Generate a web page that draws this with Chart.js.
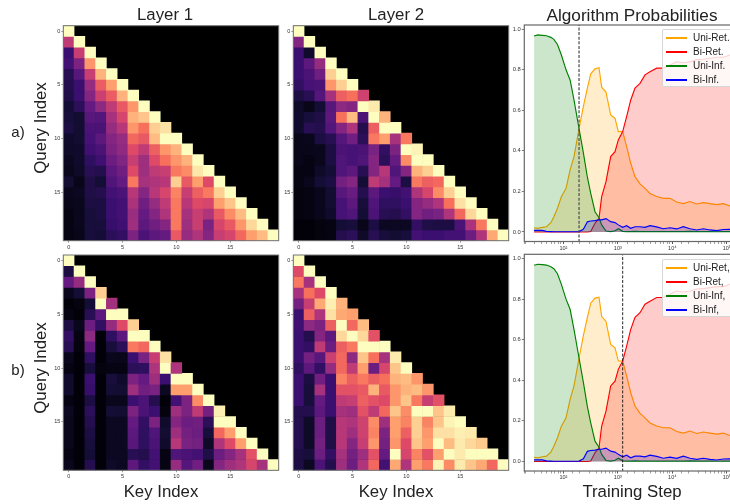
<!DOCTYPE html>
<html>
<head>
<meta charset="utf-8">
<script src="https://cdn.jsdelivr.net/npm/chart.js@4"></script>
<style>
  html, body { margin: 0; padding: 0; background: #fff; }
  body { position: relative; width: 730px; height: 504px; overflow: hidden; font-family: "Liberation Sans", sans-serif; color: #222; }
  canvas { position: absolute; filter: blur(0.3px); }
  .lbl { position: absolute; font-size: 16.8px; white-space: nowrap; transform: translate(-50%, -50%); }
  .lbl.rot { transform: translate(-50%, -50%) rotate(-90deg); }
  .legend { position: absolute; left: 662px; width: 100px; height: 58px; box-sizing: border-box; background: rgba(255,255,255,0.82); border: 1px solid rgba(204,204,204,0.8); border-radius: 2px; }
  .legend i { position: absolute; left: 3px; width: 21px; height: 1.5px; }
  .legend span { position: absolute; left: 30px; font-size: 10px; line-height: 12px; color: #222; }
</style>
</head>
<body>
<canvas id="heatA1"></canvas>
<canvas id="heatA2"></canvas>
<canvas id="probA"></canvas>
<canvas id="heatB1"></canvas>
<canvas id="heatB2"></canvas>
<canvas id="probB"></canvas>
<script>
// attention matrices, one row per query index, 0-100 on the colour scale
const layer1A = [
  [100],
  [52,100],
  [20,54,100],
  [22,36,78,100],
  [15,27,54,84,100],
  [14,20,42,65,80,100],
  [13,20,38,55,65,84,100],
  [10,16,30,40,52,64,78,100],
  [11,9,27,26,46,58,84,88,100],
  [12,9,24,24,42,50,78,70,90,94],
  [8,9,23,28,38,42,68,64,86,100,100],
  [7,8,21,24,36,41,60,52,66,78,84,100],
  [6,8,17,21,32,37,54,44,60,70,78,84,100],
  [5,7,15,14,28,33,60,44,52,54,72,76,95,100],
  [9,4,13,10,25,30,72,46,48,50,90,64,80,60,100],
  [5,6,13,14,22,24,50,38,50,58,74,54,66,72,90,100],
  [4,5,12,12,20,22,47,33,42,52,72,50,60,58,80,88,100],
  [3,5,11,12,20,22,43,30,38,48,72,46,54,48,64,76,86,100],
  [3,5,11,11,19,21,44,28,33,38,72,44,54,35,58,64,78,92,100],
  [3,4,11,10,16,18,36,24,28,30,64,42,48,38,54,58,68,80,86,100]
];
const layer2A = [
  [100],
  [38,100],
  [20,8,100],
  [20,28,42,100],
  [20,24,33,90,100],
  [18,23,24,78,90,100],
  [12,15,26,46,66,70,56],
  [7,4,10,27,40,38,100,96],
  [8,11,13,28,70,86,24,100,84],
  [8,15,14,26,38,48,14,66,100,100],
  [4,5,12,15,26,33,16,72,80,46,72],
  [4,4,5,12,24,23,24,35,18,36,100,98],
  [4,3,5,12,25,23,25,38,16,30,76,100,100],
  [3,3,7,10,25,28,15,38,50,25,38,84,90,100],
  [3,5,10,12,34,38,10,52,46,30,12,72,66,68,100],
  [2,3,5,9,27,31,14,28,20,19,22,48,58,76,90,100],
  [2,3,5,9,23,28,11,25,17,17,20,38,42,48,70,94,100],
  [2,3,5,8,23,25,10,24,15,14,18,38,33,35,48,68,92,100],
  [1,1,2,3,10,11,4,12,6,6,6,18,13,12,12,24,47,72,100],
  [1,1,2,3,14,16,7,15,11,9,11,22,20,20,22,22,32,48,82,100]
];
const layer1B = [
  [100],
  [12,100],
  [30,42,100],
  [5,10,36,90],
  [1,2,10,100,45],
  [3,1,15,28,100,100],
  [12,5,32,18,42,60,90],
  [18,3,40,1,17,28,100,100],
  [15,2,30,1,11,16,72,68,100],
  [5,1,17,1,5,4,20,35,54,94],
  [3,1,11,2,3,3,16,17,48,100,48],
  [8,1,20,1,11,8,36,30,44,20,100,100],
  [8,1,19,1,10,9,44,33,35,6,80,80,100],
  [3,1,12,1,5,5,20,24,14,1,22,36,76,100],
  [6,1,16,1,10,9,36,24,20,2,44,36,52,34,97],
  [5,1,14,1,6,6,30,18,36,8,38,32,33,16,100,100],
  [5,1,12,1,6,6,28,17,25,9,44,34,32,11,68,80,100],
  [5,1,11,1,6,6,27,17,24,8,50,35,34,7,48,60,80,100],
  [3,1,10,1,6,6,15,14,22,3,25,24,22,13,32,38,46,62,100],
  [5,1,14,1,7,6,28,18,22,3,42,26,33,5,38,44,48,58,46,100]
];
const layer2B = [
  [100],
  [60,100],
  [72,46,100],
  [46,70,60,100],
  [34,54,82,97,84],
  [20,66,48,94,82,80],
  [21,40,36,66,100,68,86],
  [20,14,38,28,92,100,92,62],
  [20,18,52,32,66,72,100,100,100],
  [20,34,27,55,68,40,88,70,46,96],
  [17,28,18,42,68,52,80,32,58,88,100],
  [20,12,33,20,74,66,72,66,70,84,86,78],
  [20,11,46,20,62,62,64,84,64,78,84,86,78],
  [20,11,30,20,52,54,66,62,60,78,88,72,54,62],
  [14,14,28,20,46,44,62,52,68,88,76,100,100,88,96],
  [14,7,32,13,50,48,56,76,44,80,74,90,74,88,98,100],
  [14,7,32,13,50,44,56,74,36,80,66,90,78,94,94,97,96],
  [14,7,34,13,50,38,54,78,34,78,60,88,80,100,86,96,92,89],
  [12,11,32,18,46,34,44,62,30,100,58,74,62,80,100,96,100,100,100],
  [12,6,24,14,44,32,48,68,22,82,48,80,72,98,76,96,88,82,68,100]
];

const indexLabels = ['0','1','2','3','4','5','6','7','8','9','10','11','12','13','14','15','16','17','18','19'];
const magmaStops = ['#000004','#140e36','#3b0f70','#641a80','#8c2981','#b73779','#de4968','#f7705c','#fe9f6d','#fecf92','#fcfdbf'];

// training curves, same for both rows
const steps = [29,34,41,49,59,67,78,92,112,133,157,194,233,276,318,381,451,505,606,739,888,1021,1227,1453,1719,2065,2551,3148,3890,5160,6840,9060,12000,15900,21100,28000,37100,49100,65000,86300,114000,151000];
const uniRet = [.021,.018,.023,.026,.046,.075,.117,.174,.215,.306,.372,.51,.62,.71,.78,.805,.81,.714,.69,.577,.56,.495,.495,.42,.34,.273,.237,.215,.19,.175,.166,.166,.148,.14,.15,.138,.145,.14,.135,.14,.128,.125];
const biRet = [0,0,0,0,0,0,0,0,0,0,0,0,0,0,.002,.043,.067,.174,.248,.372,.396,.454,.495,.57,.65,.71,.733,.775,.79,.808,.808,.824,.84,.835,.84,.85,.852,.857,.862,.862,.873,.87];
const uniInf = [.967,.972,.97,.968,.96,.95,.925,.873,.8,.75,.65,.51,.39,.27,.19,.1,.07,.035,.005,.002,.006,.016,.003,.002,.002,.003,.002,.002,.002,.002,.002,.002,.002,.002,.003,.002,.002,.002,.001,.002,.002,.002];
const biInf = [.008,.008,.008,.003,.002,.001,.001,.001,.001,.001,.001,.002,.013,.05,.054,.056,.06,.06,.066,.051,.046,.035,.023,.031,.018,.026,.026,.023,.031,.025,.016,.021,.015,.026,.016,.01,.016,.01,.007,.012,.013,.012];
const seriesColors = ['255,165,0','255,0,0','0,128,0','0,0,255'];
const namesA = ['Uni-Ret.','Bi-Ret.','Uni-Inf.','Bi-Inf.'];
const namesB = ['Uni-Ret,','Bi-Ret,','Uni-Inf,','Bi-Inf,'];
const yTicks = [0,0.2,0.4,0.6,0.8,1];
const decadeLabels = {100:'10²',1000:'10³',10000:'10⁴',100000:'10⁵'};

function hexToRgb(h) {
  return [parseInt(h.slice(1,3),16), parseInt(h.slice(3,5),16), parseInt(h.slice(5,7),16)];
}

function magma(v) {
  const t = Math.min(v, 100) / 10;
  const i = Math.min(Math.floor(t), 9);
  const a = hexToRgb(magmaStops[i]), b = hexToRgb(magmaStops[i+1]);
  const c = a.map((x, k) => Math.round(x + (b[k]-x) * (t-i)));
  return `rgb(${c[0]},${c[1]},${c[2]})`;
}

// black background and spines, chart.js has no all round border
const framePlugin = {
  id: 'frame',
  beforeDatasetsDraw(chart, args, opts) {
    if (!opts.fill) return;
    const a = chart.chartArea;
    chart.ctx.fillStyle = opts.fill;
    chart.ctx.fillRect(a.left, a.top, a.width, a.height);
  },
  afterDraw(chart, args, opts) {
    const a = chart.chartArea, c = chart.ctx;
    c.save();
    c.strokeStyle = opts.color;
    c.lineWidth = opts.width;
    c.strokeRect(a.left, a.top, a.width, a.height);
    c.restore();
  }
};

// put the canvas so the plot area lands on box, returns what the axes need
function place(id, box, axisLeft, axisBottom) {
  const el = document.getElementById(id);
  const left = Math.floor(box.x - axisLeft), top = Math.floor(box.y) - 6;
  const w = Math.ceil(box.x + box.w + 4) - left, h = Math.ceil(box.y + box.h + axisBottom) - top;
  el.width = w; el.height = h;
  el.style.left = left + 'px'; el.style.top = top + 'px';
  el.style.width = w + 'px'; el.style.height = h + 'px';
  return {
    ctx: el.getContext('2d'),
    yWidth: box.x - left,
    xHeight: axisBottom,
    padding: { left: 0, top: box.y - top, right: left + w - box.x - box.w, bottom: top + h - box.y - box.h - axisBottom }
  };
}

function heatmap(id, rows, box) {
  const p = place(id, box, 16, 12);
  new Chart(p.ctx, {
    type: 'bar',
    data: {
      labels: indexLabels,
      datasets: rows.map((row, r) => ({
        data: row.map(() => [r - 0.5, r + 0.5]),
        backgroundColor: row.map(magma),
        grouped: false,
        barPercentage: 1,
        categoryPercentage: 1
      }))
    },
    plugins: [framePlugin],
    options: {
      responsive: false,
      animation: false,
      layout: { padding: p.padding },
      plugins: { legend: { display: false }, tooltip: { enabled: false }, frame: { fill: '#000', color: '#777', width: 1 } },
      scales: {
        x: {
          grid: { offset: false, drawOnChartArea: false, tickLength: 2, tickColor: '#555', tickWidth: 0.6 },
          border: { display: false },
          ticks: { autoSkip: false, maxRotation: 0, padding: 1, color: '#333', font: { size: 5.5, family: 'Liberation Sans' } },
          afterBuildTicks: s => { s.ticks = s.ticks.filter(t => t.value % 5 === 0); },
          afterFit: s => { s.height = p.xHeight; }
        },
        y: {
          reverse: true,
          min: -0.5,
          max: 19.5,
          grid: { drawOnChartArea: false, tickLength: 2, tickColor: '#555', tickWidth: 0.6 },
          border: { display: false },
          ticks: { padding: 1, color: '#333', font: { size: 5.5, family: 'Liberation Sans' } },
          afterBuildTicks: s => { s.ticks = [0,5,10,15].map(value => ({ value })); },
          afterFit: s => { s.width = p.yWidth; }
        }
      }
    }
  });
}

function probChart(id, box, marker, markerColor, markerWidth) {
  const p = place(id, box, 20, 12);
  const curves = [uniRet, biRet, uniInf, biInf].map((vals, i) => ({
    label: namesA[i],
    data: vals.map((y, k) => ({ x: steps[k], y })),
    borderColor: `rgb(${seriesColors[i]})`,
    backgroundColor: `rgba(${seriesColors[i]},0.2)`,
    borderWidth: 1.15,
    fill: 'origin',
    pointRadius: 0,
    tension: 0,
    order: 3 - i
  }));
  curves.push({
    label: 'marker',
    data: [{ x: marker, y: -0.05 }, { x: marker, y: 1.03 }],
    borderColor: markerColor,
    borderWidth: markerWidth,
    borderDash: [3, 1.6],
    pointRadius: 0,
    fill: false,
    order: -1
  });
  new Chart(p.ctx, {
    type: 'line',
    data: { datasets: curves },
    plugins: [framePlugin],
    options: {
      responsive: false,
      animation: false,
      layout: { padding: p.padding },
      plugins: { legend: { display: false }, tooltip: { enabled: false }, frame: { color: '#666', width: 1.2 } },
      scales: {
        x: {
          type: 'logarithmic',
          min: 19.2,
          max: Math.pow(10, 1.284 + box.w / 54.5),
          grid: {
            drawOnChartArea: false,
            tickLength: 2.5,
            tickColor: '#444',
            tickWidth: c => (c.tick && decadeLabels[c.tick.value] ? 0.9 : 0.5)
          },
          border: { display: false },
          ticks: {
            autoSkip: false,
            maxRotation: 0,
            padding: 1,
            color: '#333',
            font: { size: 5.5, family: 'Liberation Sans' },
            callback: v => decadeLabels[v] || ''
          },
          afterFit: s => { s.height = p.xHeight; }
        },
        y: {
          min: -0.047,
          max: 1.021,
          grid: { drawOnChartArea: false, tickLength: 2.5, tickColor: '#444', tickWidth: 0.7 },
          border: { display: false },
          ticks: { padding: 1, color: '#333', font: { size: 5.8, family: 'Liberation Sans' }, callback: v => v.toFixed(1) },
          afterBuildTicks: s => { s.ticks = yTicks.map(value => ({ value })); },
          afterFit: s => { s.width = p.yWidth; }
        }
      }
    }
  });
}

function addLabel(text, x, y, size, rot) {
  const d = document.createElement('div');
  d.className = rot ? 'lbl rot' : 'lbl';
  d.textContent = text;
  d.style.left = x + 'px';
  d.style.top = y + 'px';
  if (size) d.style.fontSize = size + 'px';
  document.body.appendChild(d);
}

function addLegend(names, top) {
  const box = document.createElement('div');
  box.className = 'legend';
  box.style.top = top + 'px';
  names.forEach((name, i) => {
    const line = document.createElement('i');
    line.style.top = (7 + i * 14) + 'px';
    line.style.background = `rgb(${seriesColors[i]})`;
    box.appendChild(line);
    const t = document.createElement('span');
    t.style.top = (2 + i * 14) + 'px';
    t.textContent = name;
    box.appendChild(t);
  });
  document.body.appendChild(box);
}

heatmap('heatA1', layer1A, { x: 63.3, y: 25.7, w: 215.4, h: 215 });
heatmap('heatA2', layer2A, { x: 293.3, y: 25.7, w: 215.4, h: 215 });
heatmap('heatB1', layer1B, { x: 63.3, y: 255, w: 215.4, h: 215.3 });
heatmap('heatB2', layer2B, { x: 293.3, y: 255, w: 215.4, h: 215.3 });
probChart('probA', { x: 524.3, y: 25, w: 236, h: 216.5 }, 194, '#555', 1.3);
probChart('probB', { x: 524.3, y: 254.3, w: 236, h: 216.7 }, 1227, '#111', 0.9);

addLegend(namesA, 29);
addLegend(namesB, 259);

addLabel('Layer 1', 165, 15);
addLabel('Layer 2', 396, 15);
addLabel('Algorithm Probabilities', 632, 15, 17.2);
addLabel('Query Index', 41, 128, 0, true);
addLabel('Query Index', 41, 367.5, 0, true);
addLabel('a)', 18, 131, 15);
addLabel('b)', 18, 369, 15);
addLabel('Key Index', 161, 492);
addLabel('Key Index', 396, 492);
addLabel('Training Step', 632, 492);
</script>
</body>
</html>
